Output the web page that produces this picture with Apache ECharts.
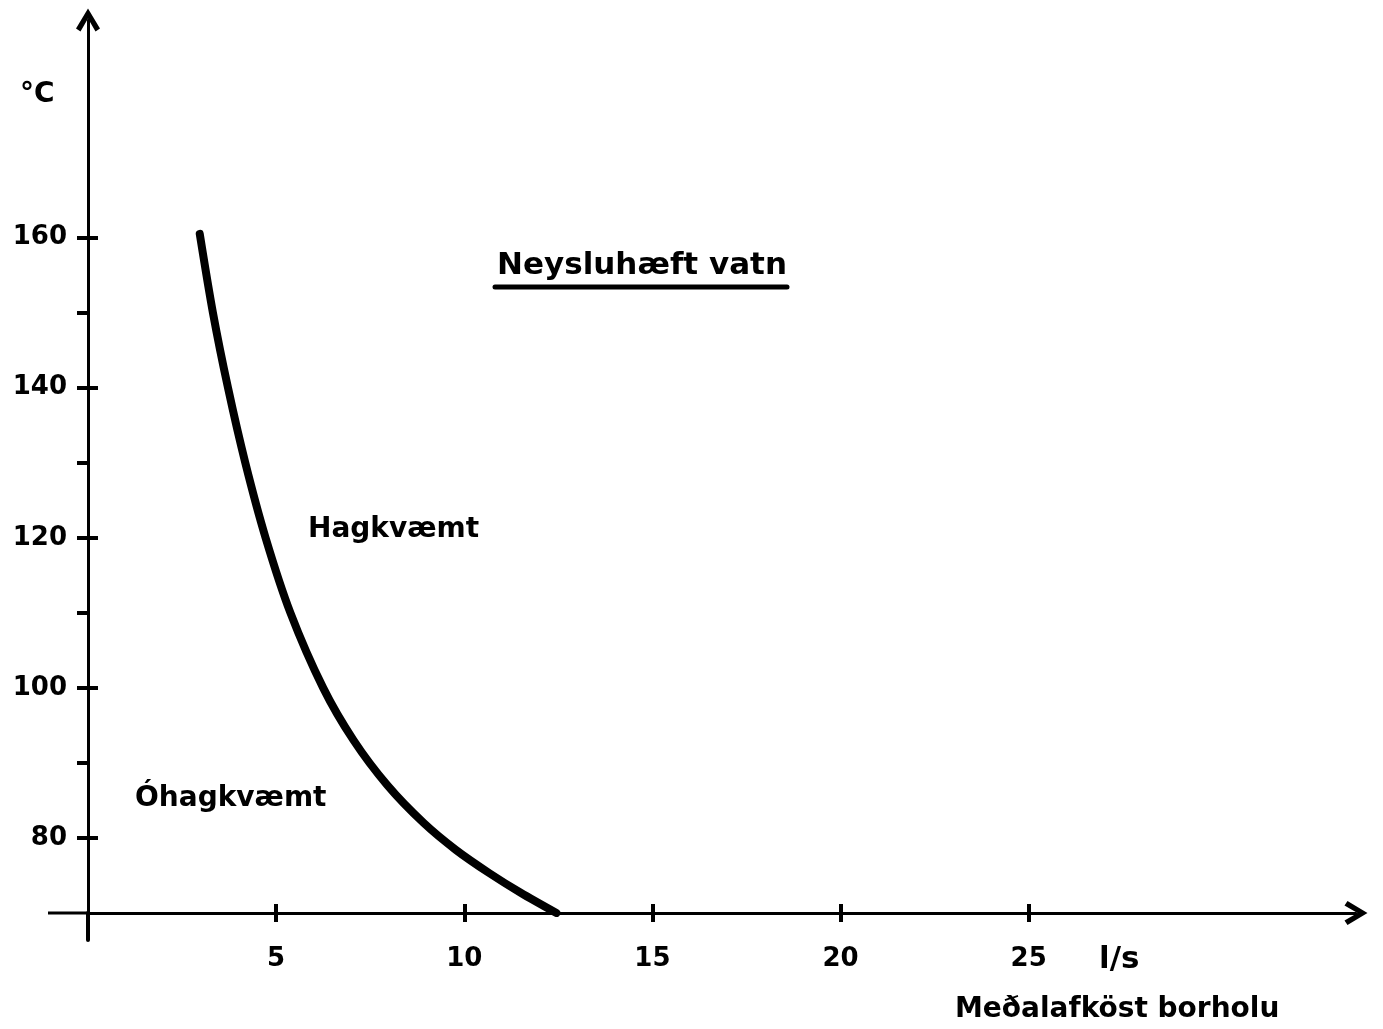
<!DOCTYPE html>
<html>
<head>
<meta charset="utf-8">
<script src="https://cdn.jsdelivr.net/npm/echarts@6/dist/echarts.min.js"></script>
<style>
html,body{margin:0;padding:0;background:#fff;}
#chart{width:1383px;height:1029px;}
</style>
</head>
<body>
<div id="chart"></div>
<script>
// Flow rate (l/s) vs temperature (°C) boundary curve
const flowRate = [2.97, 3.32, 3.72, 4.18, 4.72, 5.38, 6.25, 7.06, 7.96, 8.92, 9.78, 10.67, 11.5, 12.45];
const temperature = [160.5, 150, 140, 130, 120, 110, 100, 93, 87, 82, 78.4, 75.3, 72.7, 70];
const xTickValues = [5, 10, 15, 20, 25];
const yMajorTicks = [80, 100, 120, 140, 160];
const yMinorTicks = [80, 90, 100, 110, 120, 130, 140, 150, 160];

const FONT = 'DejaVu Sans';
const chevron = 'path://M0,20 L12,0 L24,20 L19.5,23 L12,10 L4.5,23 Z';

const chart = echarts.init(document.getElementById('chart'), null, {renderer: 'canvas'});
const xMin = 0, xMax = 33.7, yMin = 70, yMax = 189;

const option = {
  backgroundColor: '#ffffff',
  animation: false,
  grid: {left: 88, right: 27, top: 20, bottom: 116, containLabel: false},
  xAxis: [
    {
      type: 'value', min: xMin, max: xMax, position: 'bottom',
      axisLine: {show: true, onZero: false, lineStyle: {color: '#000', width: 3},
        symbol: ['none', chevron], symbolSize: [24, 24]},
      axisTick: {show: true, inside: false, length: 9, lineStyle: {color: '#000', width: 4}, customValues: xTickValues},
      axisLabel: {show: true, margin: 33, color: '#000', fontFamily: FONT, fontWeight: 'bold', fontSize: 26, customValues: xTickValues},
      splitLine: {show: false}
    },
    {
      type: 'value', min: xMin, max: xMax, position: 'bottom',
      axisLine: {show: false, onZero: false},
      axisTick: {show: true, inside: true, length: 9, lineStyle: {color: '#000', width: 4}, customValues: xTickValues},
      axisLabel: {show: false},
      splitLine: {show: false}
    }
  ],
  yAxis: [
    {
      type: 'value', min: yMin, max: yMax, position: 'left',
      axisLine: {show: true, onZero: false, lineStyle: {color: '#000', width: 3},
        symbol: ['none', chevron], symbolSize: [24, 24]},
      axisTick: {show: true, inside: false, length: 11, lineStyle: {color: '#000', width: 4}, customValues: yMinorTicks},
      axisLabel: {show: true, margin: 21, color: '#000', fontFamily: FONT, fontWeight: 'bold', fontSize: 26, customValues: yMajorTicks},
      splitLine: {show: false}
    },
    {
      type: 'value', min: yMin, max: yMax, position: 'left',
      axisLine: {show: false, onZero: false},
      axisTick: {show: true, inside: true, length: 10, lineStyle: {color: '#000', width: 4}, customValues: yMajorTicks},
      axisLabel: {show: false},
      splitLine: {show: false}
    }
  ],
  series: [{
    type: 'line',
    xAxisIndex: 0, yAxisIndex: 0,
    data: flowRate.map((x, i) => [x, temperature[i]]),
    smooth: 0.3,
    showSymbol: false,
    lineStyle: {color: '#000', width: 8, cap: 'round', join: 'round'}
  }]
};
chart.setOption(option);

// axis extensions past the origin and text annotations
const origin = chart.convertToPixel({gridIndex: 0}, [0, 70]);
const label = (t, x, y, size) => ({
  type: 'text', x: x, y: y,
  style: {text: t, fill: '#000', font: 'bold ' + size + 'px "' + FONT + '"', textAlign: 'left', textVerticalAlign: 'middle'}
});
chart.setOption({
  graphic: [
    {type: 'line', shape: {x1: origin[0] - 40, y1: origin[1], x2: origin[0], y2: origin[1]}, style: {stroke: '#000', lineWidth: 3}},
    {type: 'line', shape: {x1: origin[0], y1: origin[1], x2: origin[0], y2: origin[1] + 27}, style: {stroke: '#000', lineWidth: 4, lineCap: 'round'}},
    label('°C', 20, 95, 28),
    label('Neysluhæft vatn', 497, 266, 31),
    {type: 'line', shape: {x1: 495, y1: 287, x2: 787, y2: 287}, style: {stroke: '#000', lineWidth: 5, lineCap: 'round'}},
    label('Hagkvæmt', 308, 530, 28),
    label('Óhagkvæmt', 135, 799, 28),
    label('l/s', 1099, 960, 31),
    label('Meðalafköst borholu', 955, 1010, 28)
  ]
});
</script>
</body>
</html>
